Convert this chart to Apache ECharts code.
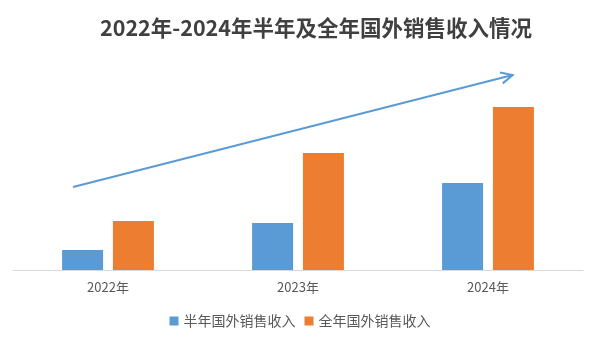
<!DOCTYPE html>
<html>
<head>
<meta charset="utf-8">
<script src="https://cdn.jsdelivr.net/npm/echarts@6/dist/echarts.min.js"></script>
<style>
html,body{margin:0;padding:0;background:#fff;}
#c{width:600px;height:343px;}
</style>
</head>
<body>
<div id="c"></div>
<script>
const categories = ['2022年', '2023年', '2024年'];
const halfYear = [2.0, 4.7, 8.7];
const fullYear = [4.9, 11.7, 16.3];
const seriesNames = ['半年国外销售收入', '全年国外销售收入'];
// trend arrow: [xStart, yStart, xEnd, yEnd] in axis units
const trendArrow = [[-0.184, 8.3, 2.13, 19.5]];

const FONT = '"Noto Sans CJK SC","Noto Sans",sans-serif';
const chart = echarts.init(document.getElementById('c'), null, {renderer: 'canvas'});
chart.setOption({
  animation: false,
  backgroundColor: '#ffffff',
  title: {
    text: '2022年-2024年半年及全年国外销售收入情况',
    left: 311,
    textAlign: 'center',
    top: 12,
    textStyle: {fontFamily: FONT, fontSize: 21.5, fontWeight: 'bold', color: '#404040'}
  },
  legend: {
    data: seriesNames,
    bottom: 10,
    left: 'center',
    icon: 'rect',
    itemWidth: 9,
    itemHeight: 9,
    itemGap: 9,
    textStyle: {fontFamily: FONT, fontSize: 14, color: '#595959'}
  },
  grid: {left: 13, right: 17, top: 70, bottom: 73, containLabel: false},
  xAxis: [{
    type: 'category',
    data: categories,
    axisLine: {lineStyle: {color: '#d9d9d9', width: 1}},
    axisTick: {show: false},
    axisLabel: {fontFamily: FONT, fontSize: 13, color: '#595959', margin: 11}
  }, {
    type: 'value',
    min: -0.5, max: 2.5,
    show: false
  }],
  yAxis: {
    type: 'value', min: 0, max: 20, show: false,
    splitLine: {show: false}
  },
  series: [{
    name: seriesNames[0],
    type: 'bar',
    data: halfYear,
    barWidth: 41,
    barGap: '24%',
    itemStyle: {color: '#5B9BD5'}
  }, {
    name: seriesNames[1],
    type: 'bar',
    data: fullYear,
    barWidth: 41,
    barGap: '24%',
    itemStyle: {color: '#ED7D31'}
  }, {
    type: 'custom',
    xAxisIndex: 1,
    yAxisIndex: 0,
    silent: true,
    data: trendArrow,
    encode: {x: [0, 2], y: [1, 3]},
    renderItem: function (params, api) {
      const p1 = api.coord([api.value(0), api.value(1)]);
      const p2 = api.coord([api.value(2), api.value(3)]);
      const ang = Math.atan2(p2[1] - p1[1], p2[0] - p1[0]);
      const L = 13, spread = 0.45;
      const a1 = [p2[0] - L * Math.cos(ang - spread), p2[1] - L * Math.sin(ang - spread)];
      const a2 = [p2[0] - L * Math.cos(ang + spread), p2[1] - L * Math.sin(ang + spread)];
      const style = {stroke: '#5B9BD5', lineWidth: 2, fill: null};
      return {
        type: 'group',
        children: [
          {type: 'line', shape: {x1: p1[0], y1: p1[1], x2: p2[0], y2: p2[1]}, style: style},
          {type: 'polyline', shape: {points: [a1, p2, a2]}, style: style}
        ]
      };
    }
  }]
});
</script>
</body>
</html>
